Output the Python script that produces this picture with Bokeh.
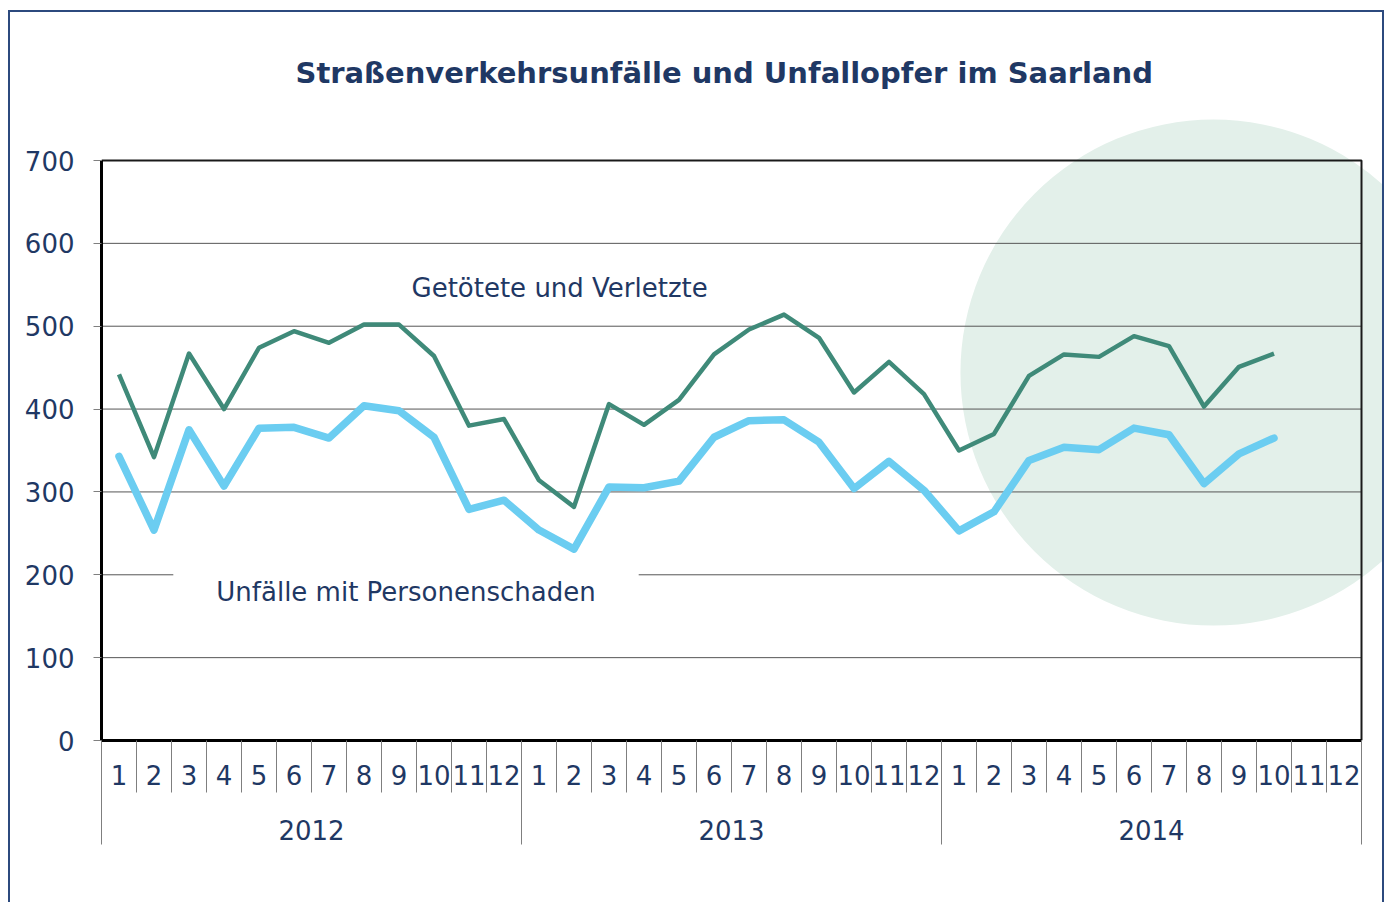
from bokeh.plotting import figure
from bokeh.models import Range1d, FixedTicker, LinearAxis, Label
from bokeh.embed import file_html
from bokeh.resources import INLINE

# ---------------- data ----------------
years = ["2012", "2013", "2014"]
months = ["1", "2", "3", "4", "5", "6", "7", "8", "9", "10", "11", "12"]
getoetete_verletzte = [442, 342, 467, 400, 474, 494, 480, 502, 502, 464, 380, 388,
                       314, 282, 406, 381, 411, 466, 496, 514, 486, 420, 457, 418,
                       350, 370, 440, 466, 463, 488, 476, 403, 451, 467]
unfaelle_personenschaden = [343, 254, 375, 307, 377, 378, 365, 404, 398, 366, 279, 290,
                            254, 231, 306, 305, 313, 366, 386, 387, 360, 304, 337, 302,
                            253, 276, 338, 354, 351, 377, 369, 310, 346, 365]
y_ticks = [0, 100, 200, 300, 400, 500, 600, 700]

NAVY = "#1f3864"
FONT = "DejaVu Sans"
GREEN = "#3f8a79"
BLUE = "#6bcdf1"
FRAME_BLUE = "#2c4a7e"

n_months = len(years) * len(months)
x_months = list(range(len(getoetete_verletzte)))
y_max = y_ticks[-1]

W, H = 1376, 892
p = figure(width=W, height=H, output_backend="svg", toolbar_location=None,
           x_range=Range1d(-0.5, -0.5 + 1281 / 35), y_range=Range1d(0, 635 * 700 / 580),
           min_border_left=91, min_border_right=4, min_border_top=93, min_border_bottom=164,
           title="Straßenverkehrsunfälle und Unfallopfer im Saarland")
p.margin = (10, 0, 0, 8)
p.styles = {"border": "2px solid " + FRAME_BLUE, "border-bottom": "none"}
p.outline_line_color = None
p.background_fill_color = "white"
p.border_fill_color = "white"
p.xgrid.visible = False
p.ygrid.visible = False

p.title.text_font = FONT
p.title.text_font_size = "29px"
p.title.text_font_style = "bold"
p.title.text_color = NAVY
p.title.align = "left"
p.title.offset = 194
p.title.standoff = 31

# y axis
yax = p.yaxis[0]
yax.ticker = FixedTicker(ticks=y_ticks)
yax.bounds = (0, y_max)
yax.axis_line_color = "black"
yax.axis_line_width = 3
yax.major_tick_out = 8
yax.major_tick_in = 0
yax.major_tick_line_color = "#7f7f7f"
yax.minor_tick_line_color = None
yax.major_label_text_font = FONT
yax.major_label_text_font_size = "26px"
yax.major_label_text_color = NAVY
yax.major_label_standoff = 19

# x axis: months
month_ticks = list(range(n_months))
month_bounds = [i - 0.5 for i in range(n_months + 1)]
xax = p.xaxis[0]
xax.ticker = FixedTicker(ticks=month_ticks, minor_ticks=month_bounds)
xax.major_label_overrides = {i: months[i % 12] for i in month_ticks}
xax.bounds = (-0.5, n_months - 0.5)
xax.axis_line_color = "black"
xax.axis_line_width = 3
xax.major_tick_out = 0
xax.major_tick_in = 0
xax.minor_tick_out = 52
xax.minor_tick_in = 0
xax.minor_tick_line_color = "#7f7f7f"
xax.major_label_text_font = FONT
xax.major_label_text_font_size = "26px"
xax.major_label_text_color = NAVY
xax.major_label_standoff = -28

# x axis: years
year_ticks = [12 * k + 5.5 for k in range(len(years))]
year_bounds = [12 * k - 0.5 for k in range(len(years) + 1)]
yrax = LinearAxis(ticker=FixedTicker(ticks=year_ticks, minor_ticks=year_bounds))
yrax.major_label_overrides = {t: years[k] for k, t in enumerate(year_ticks)}
yrax.axis_line_color = None
yrax.major_tick_out = 0
yrax.major_tick_in = 0
yrax.minor_tick_out = 57
yrax.minor_tick_in = 0
yrax.minor_tick_line_color = "#7f7f7f"
yrax.major_label_text_font = FONT
yrax.major_label_text_font_size = "26px"
yrax.major_label_text_color = NAVY
yrax.major_label_standoff = -25
p.add_layout(yrax, "below")

# decorative background circle
circle_cx, circle_cy, circle_r = 31.27, 444, 253
p.circle(x=[circle_cx], y=[circle_cy], radius=circle_r, radius_units="screen",
         fill_color="#e3f0ea", line_color=None)

# grid lines inside the box
grid_vals = y_ticks[1:-1]
p.segment(x0=[-0.5] * len(grid_vals), x1=[n_months - 0.5] * len(grid_vals),
          y0=grid_vals, y1=grid_vals, line_color="#555555", line_width=1)

# top and right border of the box
p.line(x=[-0.5, n_months - 0.5, n_months - 0.5], y=[y_max, y_max, 0],
       line_color="#1a1a1a", line_width=2)

# data lines
p.line(x_months, getoetete_verletzte, line_color=GREEN, line_width=4.5, line_join="round")
p.line(x_months, unfaelle_personenschaden, line_color=BLUE, line_width=7.5,
       line_join="round", line_cap="round")

p.add_layout(Label(x=12.59, y=546.7, text="Getötete und Verletzte",
                   text_align="center", text_baseline="middle",
                   text_font=FONT, text_font_size="26px", text_color=NAVY))
p.add_layout(Label(x=8.2, y=179.8, text="Unfälle mit Personenschaden",
                   text_align="center", text_baseline="middle",
                   text_font=FONT, text_font_size="26px", text_color=NAVY,
                   background_fill_color="white",
                   padding=dict(left=43, right=43, top=6, bottom=6)))

open("out.html", "w").write(file_html(p, INLINE))
